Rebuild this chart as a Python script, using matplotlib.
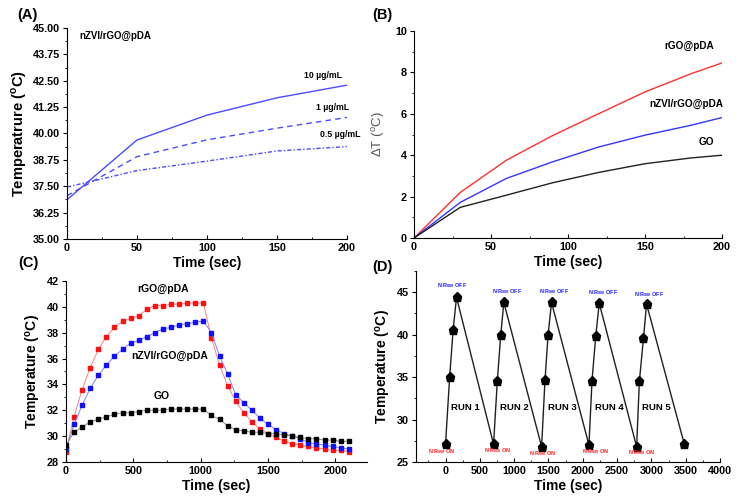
import numpy as np
import matplotlib
matplotlib.use("Agg")
import matplotlib.pyplot as plt
from matplotlib.ticker import MultipleLocator

plt.rcParams['font.family'] = ['Liberation Sans', 'DejaVu Sans']
plt.rcParams['font.weight'] = 'bold'
plt.rcParams['axes.labelweight'] = 'bold'
plt.rcParams['axes.linewidth'] = 0.8

# (A) temperature vs time for three concentrations
time_a = [0, 50, 100, 150, 200]
temp_10 = [36.86, 39.69, 40.87, 41.69, 42.29]
temp_1 = [37.05, 38.90, 39.70, 40.25, 40.76]
temp_05 = [37.46, 38.24, 38.69, 39.17, 39.38]
conc_labels = ['10 µg/mL', '1 µg/mL', '0.5 µg/mL']

# (B) delta T vs time
time_b = [0, 30, 60, 90, 120, 150, 180, 200]
dt_rgo = [0, 2.2, 3.76, 4.95, 6.01, 7.06, 7.94, 8.46]
dt_nzvi = [0, 1.72, 2.88, 3.68, 4.4, 4.97, 5.45, 5.82]
dt_go = [0, 1.48, 2.07, 2.67, 3.17, 3.59, 3.87, 4.0]

# (C) heating / cooling curves
time_c = list(range(0, 2101, 60))
temp_c_rgo = [28.8, 31.5, 33.6, 35.3, 36.7, 37.7, 38.4, 38.9, 39.1, 39.3, 39.8, 40.1,
              40.1, 40.2, 40.2, 40.3, 40.3, 40.3, 37.6, 35.5, 33.9, 32.7, 31.8, 31.1,
              30.55, 30.2, 29.9, 29.6, 29.4, 29.3, 29.2, 29.1, 29.0, 28.9, 28.9, 28.8]
temp_c_nzvi = [29.0, 30.9, 32.4, 33.7, 34.7, 35.5, 36.2, 36.7, 37.2, 37.4, 37.7, 38.0,
               38.3, 38.4, 38.6, 38.7, 38.8, 38.9, 38.0, 36.2, 34.8, 33.2, 32.6, 32.0,
               31.4, 30.9, 30.5, 30.2, 30.0, 29.8, 29.5, 29.4, 29.3, 29.2, 29.1, 29.0]
temp_c_go = [29.3, 30.3, 30.7, 31.1, 31.3, 31.5, 31.7, 31.8, 31.8, 31.9, 32.0, 32.0,
             32.0, 32.1, 32.1, 32.1, 32.1, 32.1, 31.6, 31.3, 30.8, 30.5, 30.4, 30.3,
             30.3, 30.2, 30.2, 30.1, 30.0, 29.9, 29.8, 29.8, 29.7, 29.7, 29.6, 29.6]

# (D) recycling runs
time_d = [0, 60, 110, 160, 700, 755, 805, 850, 1400, 1450, 1495, 1545,
          2090, 2135, 2190, 2240, 2785, 2825, 2885, 2930, 3480]
temp_d = [27.1, 35.0, 40.5, 44.4, 27.1, 34.6, 40.0, 43.8, 26.8, 34.7, 40.0, 43.8,
          27.0, 34.6, 39.9, 43.7, 26.8, 34.5, 39.6, 43.6, 27.1]
run_names = ['RUN 1', 'RUN 2', 'RUN 3', 'RUN 4', 'RUN 5']
run_x = [290, 1000, 1700, 2380, 3080]
off_x = [97, 894, 1580, 2295, 2970]
off_y = [45.8, 45.1, 45.1, 45.0, 44.7]
on_x = [-48, 758, 1420, 2184, 2860]
on_y = [26.2, 26.3, 26.0, 26.2, 26.1]


def style(ax):
    ax.spines['top'].set_visible(False)
    ax.spines['right'].set_visible(False)
    ax.tick_params(axis='y', which='both', direction='out', labelsize=7.8, pad=2)
    ax.tick_params(axis='x', which='both', direction='in', labelsize=7.8, pad=3)
    ax.tick_params(which='major', length=3)
    ax.tick_params(which='minor', length=1.8)
    for t in ax.get_xticklabels() + ax.get_yticklabels():
        t.set_fontweight('bold')


fig = plt.figure(figsize=(7.5, 5.03), dpi=100)

# ---- A
ax = fig.add_axes([0.0893, 0.5249, 0.3733, 0.4195])
ax.plot(time_a, temp_10, '-', color='#4b4bff', lw=1.0)
ax.plot(time_a, temp_1, '--', color='#4b4bff', lw=1.0, dashes=(4, 3))
ax.plot(time_a, temp_05, '-.', color='#4b4bff', lw=1.0, dashes=(3, 1.5, 1, 1.5))
ax.set_xlim(0, 200)
ax.set_ylim(35, 45)
ax.set_yticks(np.arange(35, 45.01, 1.25))
ax.set_yticklabels(['%.2f' % v for v in np.arange(35, 45.01, 1.25)])
ax.xaxis.set_major_locator(MultipleLocator(50))
ax.xaxis.set_minor_locator(MultipleLocator(25))
ax.yaxis.set_minor_locator(MultipleLocator(0.625))
ax.set_xlabel('Time (sec)', fontsize=10, labelpad=2)
ax.set_ylabel('Temperatrure ($^{\\mathregular{o}}$C)', fontsize=10.5, labelpad=3)
ax.text(8.6, 44.6, 'nZVI/rGO@pDA', fontsize=7, ha='left', va='center')
ax.text(183, 42.73, conc_labels[0], fontsize=6.3, ha='center', va='center')
ax.text(190, 41.22, conc_labels[1], fontsize=6.3, ha='center', va='center')
ax.text(195, 39.93, conc_labels[2], fontsize=6.3, ha='center', va='center')
style(ax)

# ---- B
ax = fig.add_axes([0.552, 0.5268, 0.4107, 0.4115])
ax.plot(time_b, dt_rgo, '-', color='#ff3030', lw=1.0)
ax.plot(time_b, dt_nzvi, '-', color='#3535ff', lw=1.0)
ax.plot(time_b, dt_go, '-', color='#202020', lw=1.0)
ax.set_xlim(0, 200)
ax.set_ylim(0, 10)
ax.xaxis.set_major_locator(MultipleLocator(50))
ax.xaxis.set_minor_locator(MultipleLocator(25))
ax.yaxis.set_major_locator(MultipleLocator(2))
ax.yaxis.set_minor_locator(MultipleLocator(1))
ax.set_xlabel('Time (sec)', fontsize=10, labelpad=2)
ax.set_ylabel('ΔT ($^{\\mathregular{o}}$C)', fontsize=9.5, fontweight='normal', color='#555555', labelpad=6)
ax.text(179, 9.29, 'rGO@pDA', fontsize=7.2, ha='center', va='center')
ax.text(177, 6.47, 'nZVI/rGO@pDA', fontsize=7.2, ha='center', va='center')
ax.text(190, 4.64, 'GO', fontsize=7.2, ha='center', va='center')
style(ax)

# ---- C
ax = fig.add_axes([0.088, 0.0815, 0.4013, 0.36])
ax.plot(time_c, temp_c_rgo, '-', color='#ff8080', lw=0.7, marker='s', ms=2.8, mfc='#ff1010', mec='#ff1010')
ax.plot(time_c, temp_c_nzvi, '-', color='#8080ff', lw=0.7, marker='s', ms=2.8, mfc='#1010ff', mec='#1010ff')
ax.plot(time_c, temp_c_go, '-', color='#909090', lw=0.7, marker='s', ms=2.8, mfc='black', mec='black')
ax.set_xlim(0, 2235)
ax.set_ylim(28, 42)
ax.xaxis.set_major_locator(MultipleLocator(500))
ax.xaxis.set_minor_locator(MultipleLocator(250))
ax.yaxis.set_major_locator(MultipleLocator(2))
ax.yaxis.set_minor_locator(MultipleLocator(1))
ax.set_xlabel('Time (sec)', fontsize=10, labelpad=2)
ax.set_ylabel('Temperature ($^{\\mathregular{o}}$C)', fontsize=10, labelpad=3)
ax.text(720, 41.38, 'rGO@pDA', fontsize=7.5, ha='center', va='center')
ax.text(772, 36.2, 'nZVI/rGO@pDA', fontsize=7.5, ha='center', va='center')
ax.text(713, 33.1, 'GO', fontsize=7.5, ha='center', va='center')
style(ax)

# ---- D
ax = fig.add_axes([0.5547, 0.0815, 0.4053, 0.3797])
ax.plot(time_d, temp_d, '-', color='#202020', lw=1.0, marker='p', ms=6.5, mfc='black', mec='black')
ax.set_xlim(-430, 3990)
ax.set_ylim(25, 47.5)
ax.set_xticks(np.arange(0, 4001, 500))
ax.xaxis.set_minor_locator(MultipleLocator(250))
ax.yaxis.set_major_locator(MultipleLocator(5))
ax.yaxis.set_minor_locator(MultipleLocator(2.5))
ax.set_xlabel('Time (sec)', fontsize=10, labelpad=2)
ax.set_ylabel('Temperature ($^{\\mathregular{o}}$C)', fontsize=10, labelpad=3)
for i in range(5):
    ax.text(run_x[i], 31.4, run_names[i], fontsize=6.8, ha='center', va='center')
    ax.text(off_x[i], off_y[i], 'NIR$_{\\mathregular{808}}$ OFF', fontsize=4, color='#2020ff',
            ha='center', va='center')
    ax.text(on_x[i], on_y[i], 'NIR$_{\\mathregular{808}}$ ON', fontsize=4, color='#ff2020',
            ha='center', va='center')
style(ax)

fig.text(0.023, 0.970, '(A)', fontsize=10.5, fontweight='bold', va='center')
fig.text(0.496, 0.970, '(B)', fontsize=10.5, fontweight='bold', va='center')
fig.text(0.024, 0.477, '(C)', fontsize=10.5, fontweight='bold', va='center')
fig.text(0.496, 0.469, '(D)', fontsize=10.5, fontweight='bold', va='center')

fig.savefig('out.png', dpi=100)
